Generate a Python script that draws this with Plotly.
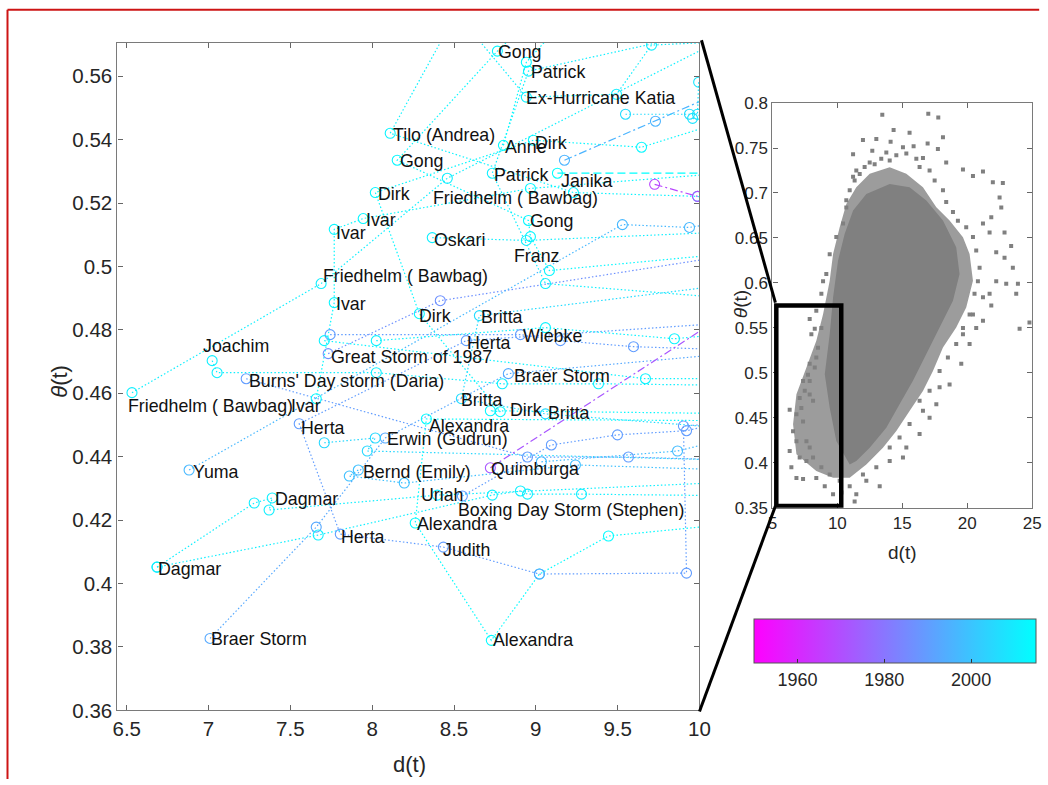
import plotly.graph_objects as go

# Figure canvas and page-pixel helpers for placing the axes and decorations
FW, FH = 1048, 790
SX, OX = 0.9855, 5.0
SY, OY = 0.973, 8.8
FONT = "Liberation Sans, Arial, Helvetica, sans-serif"


def px(x):
    """Horizontal page pixel -> paper fraction."""
    return ((x - OX) / SX) / FW


def py(y):
    """Vertical page pixel (from the top) -> paper fraction."""
    return 1 - ((y - OY) / SY) / FH


# ---------------------------------------------------------------------------
# Storm tracks in the (d, theta) phase space, one list per storm
# ---------------------------------------------------------------------------
track_names = [
    "Gong", "Patrick", "Ex-Hurricane Katia", "Tilo (Andrea)", "Anne", "Dirk",
    "Janika", "Friedhelm", "Ivar", "Oskari", "Britta", "Wiebke",
    "Joachim", "Great Storm of 1987", "Braer Storm", "Burns' Day storm",
    "Alexandra", "Herta / Judith", "Erwin (Gudrun)", "Yuma", "Bernd (Emily)",
    "Quimburga", "Dagmar", "Dagmar (2)", "Uriah", "Boxing Day Storm",
    "storm 1968", "storm 1996", "storm 2006", "storm 2008", "storm 2009",
    "storm 2012a", "storm 2012b",
]
track_years = [
    2013, 2011, 2011, 2012, 2014, 2013,
    2015, 2011, 2013, 2011, 2006, 1990,
    2011, 1987, 1993, 1990,
    2014, 1990, 2005, 1997, 1999,
    1972, 2011, 2011, 1990, 1998,
    1968, 1996, 2006, 2008, 2009,
    2012, 2012,
]
track_dash = [
    "dot", "dot", "dot", "dot", "dot", "dot",
    "dash", "dot", "dot", "dot", "dot", "dot",
    "dot", "dot", "dot", "dot",
    "dot", "dot", "dot", "dot", "dot",
    "dashdot", "dot", "dot", "dot", "dot",
    "dashdot", "dashdot", "dot", "dot", "dot",
    "dot", "dot",
]
track_d = [
    [9.334, 8.765, 8.153, 8.955, 8.967, 9.083, 10.373],
    [10.373, 8.955, 8.734, 9.059, 10.373],
    [8.294, 8.942, 9.493, 9.707, 10.373],
    [8.661, 8.110, 9.230, 9.988, 10.373],
    [8.802, 8.942, 9.395],
    [10.373, 9.646, 8.985, 8.019, 8.288, 8.783, 8.722, 10.373],
    [9.132, 10.373],
    [6.532, 7.688, 8.459, 10.373],
    [7.658, 7.768, 7.768, 7.945, 8.967, 10.373],
    [8.367, 8.942, 10.373],
    [10.373, 8.655, 8.545, 9.059, 10.373],
    [7.743, 8.906, 9.150, 9.597, 10.373],
    [7.022, 7.052, 8.025, 8.795, 9.383, 10.373],
    [7.731, 8.416, 10.373],
    [7.009, 7.658, 8.080, 8.832, 10.373],
    [7.230, 8.949, 9.566, 10.373],
    [10.373, 8.331, 8.263, 8.728, 9.022, 9.444, 10.373],
    [10.373, 8.575, 7.554, 7.805, 8.435, 9.022, 9.921, 9.902, 10.373],
    [7.707, 8.019, 7.970, 10.373],
    [6.881, 9.529, 9.939, 10.373],
    [7.915, 7.860, 8.196, 9.242, 10.373],
    [8.722, 10.373],
    [6.685, 7.279, 7.389, 7.370, 8.398, 10.373],
    [6.685, 7.670, 8.734, 8.906, 8.949, 9.279, 10.373],
    [8.551, 9.095, 9.499, 9.921, 10.373],
    [9.034, 9.866, 10.373],
    [9.726, 9.988],
    [9.175, 9.731, 10.373],
    [9.548, 9.939, 10.373],
    [9.958, 10.373],
    [9.995, 9.988, 10.373],
    [8.025, 9.059, 9.847, 10.373],
    [7.707, 9.670, 10.373],
]
track_theta = [
    [0.5967, 0.5679, 0.5335, 0.5145, 0.5094, 0.4987, 0.5050],
    [0.5777, 0.5616, 0.5294, 0.4946, 0.4892],
    [0.5935, 0.5534, 0.5543, 0.5698, 0.5714],
    [0.5935, 0.5420, 0.5233, 0.5221, 0.5161],
    [0.5382, 0.5644, 0.5903],
    [0.5493, 0.5376, 0.5398, 0.5233, 0.4851, 0.4542, 0.4545, 0.4535],
    [0.5294, 0.5294],
    [0.4602, 0.4946, 0.5278, 0.5777],
    [0.4583, 0.4886, 0.5117, 0.5151, 0.5246, 0.5303],
    [0.5091, 0.5082, 0.5113],
    [0.4955, 0.4845, 0.4583, 0.4535, 0.4482],
    [0.4785, 0.4785, 0.4766, 0.4747, 0.4734],
    [0.4703, 0.4665, 0.4665, 0.4630, 0.4630, 0.4624],
    [0.4725, 0.4892, 0.5050],
    [0.3827, 0.4178, 0.4459, 0.4662, 0.4734],
    [0.4646, 0.4399, 0.4399, 0.4387],
    [0.4513, 0.4519, 0.4191, 0.3821, 0.4030, 0.4150, 0.4197],
    [0.4829, 0.4766, 0.4504, 0.4156, 0.4115, 0.4030, 0.4033, 0.4497, 0.4513],
    [0.4444, 0.4459, 0.4418, 0.4387],
    [0.4358, 0.5132, 0.5123, 0.5161],
    [0.4358, 0.4339, 0.4317, 0.4374, 0.4355],
    [0.4365, 0.4921],
    [0.4052, 0.4254, 0.4270, 0.4232, 0.4279, 0.4324],
    [0.4052, 0.4153, 0.4279, 0.4292, 0.4282, 0.4282, 0.4276],
    [0.4276, 0.4437, 0.4469, 0.4482, 0.4535],
    [0.4384, 0.4418, 0.4482],
    [0.5259, 0.5221],
    [0.5335, 0.5458, 0.5603],
    [0.5480, 0.5480, 0.5493],
    [0.5467, 0.5400],
    [0.5581, 0.5480, 0.5350],
    [0.4766, 0.4807, 0.4772, 0.4797],
    [0.4766, 0.4646, 0.4646],
]

# Storm name labels
label_text = [
    "Gong", "Patrick", "Ex-Hurricane Katia", "Tilo (Andrea)", "Anne", "Dirk",
    "Gong", "Patrick", "Janika", "Dirk", "Friedhelm ( Bawbag)", "Ivar",
    "Gong", "Ivar", "Oskari", "Franz", "Friedhelm ( Bawbag)", "Ivar",
    "Dirk", "Britta", "Wiebke", "Herta", "Joachim", "Great Storm of 1987",
    "Braer Storm", "Burns' Day storm (Daria)", "Britta", "Friedhelm ( Bawbag)",
    "Ivar", "Dirk", "Britta", "Herta", "Alexandra", "Erwin (Gudrun)", "Yuma",
    "Bernd (Emily)", "Quimburga", "Dagmar", "Uriah",
    "Boxing Day Storm (Stephen)", "Alexandra", "Herta", "Judith", "Dagmar",
    "Braer Storm", "Alexandra",
]
label_d = [
    8.765, 8.967, 8.936, 8.123, 8.808, 8.991,
    8.165, 8.740, 9.150, 8.031, 8.367, 7.957,
    8.961, 7.774, 8.373, 8.863, 7.695, 7.774,
    8.282, 8.661, 8.918, 8.575, 6.961, 7.743,
    8.863, 7.242, 8.539, 6.502,
    7.499, 8.838, 9.071, 7.560, 8.343, 8.086, 6.899,
    7.939, 8.722, 7.401, 8.294,
    8.520, 8.269, 7.805, 8.429, 6.685,
    7.009, 8.734,
]
label_theta = [
    0.5676, 0.5613, 0.5531, 0.5413, 0.5376, 0.5388,
    0.5331, 0.5287, 0.5271, 0.5230, 0.5215, 0.5145,
    0.5142, 0.5107, 0.5082, 0.5034, 0.4971, 0.4883,
    0.4845, 0.4839, 0.4782, 0.4760, 0.4750, 0.4715,
    0.4655, 0.4639, 0.4579, 0.4560,
    0.4560, 0.4548, 0.4538, 0.4491, 0.4497, 0.4456, 0.4352,
    0.4352, 0.4361, 0.4267, 0.4279,
    0.4232, 0.4188, 0.4147, 0.4106, 0.4046,
    0.3824, 0.3821,
]

# Colour range of the year colour bar
year_min, year_max = 1950, 2015
year_ticks = [1960, 1980, 2000]

# ---------------------------------------------------------------------------
# Full sample cloud for the overview inset
# ---------------------------------------------------------------------------
cloud_halo_d = [
    10.95, 9.67, 8.38, 6.85, 6.59, 6.85, 7.62, 8.38, 8.90, 9.41, 9.67, 10.18,
    10.69, 11.46, 12.49, 14.03, 15.31, 16.59, 17.62, 18.64, 19.67, 20.18,
    20.44, 19.92, 19.15, 18.13, 17.36, 16.59, 15.56, 14.54, 13.51, 12.23,
]
cloud_halo_theta = [
    0.3834, 0.3834, 0.3908, 0.4094, 0.4428, 0.4762, 0.5059, 0.5356, 0.5653,
    0.6025, 0.6322, 0.6619, 0.6879, 0.7064, 0.7213, 0.7287, 0.7213, 0.7064,
    0.6841, 0.6693, 0.6507, 0.6322, 0.6025, 0.5727, 0.5505, 0.5282, 0.5022,
    0.4799, 0.4576, 0.4354, 0.4168, 0.3982,
]
cloud_core_d = [
    10.95, 9.92, 9.41, 9.03, 9.41, 9.67, 10.05, 10.56, 11.21, 12.23, 14.03,
    15.56, 16.85, 18.13, 19.15, 19.41, 18.90, 17.87, 16.85, 15.82, 14.79,
    13.77, 12.49, 11.46,
]
cloud_core_theta = [
    0.3982, 0.4242, 0.4613, 0.4985, 0.5430, 0.5839, 0.6247, 0.6544, 0.6804,
    0.6990, 0.7101, 0.7064, 0.6916, 0.6693, 0.6396, 0.6099, 0.5802, 0.5505,
    0.5208, 0.4911, 0.4651, 0.4391, 0.4168, 0.4019,
]
# samples along the fringe of the cloud
edge_d = [
    10.69, 10.95, 11.33, 11.72, 12.10, 12.87, 13.38, 13.77, 14.54, 16.08,
    16.33, 17.10, 17.49, 18.13, 18.38, 18.90, 19.28, 19.92, 20.44, 20.69,
    20.95, 20.82, 20.56, 20.18, 19.67, 19.15, 18.51, 17.87, 17.10, 16.33,
    15.56, 14.79, 14.03, 13.00, 11.97, 10.95, 10.18, 9.41, 8.77, 8.13,
    7.62, 7.36, 7.23, 7.49, 7.87, 8.26, 8.51, 8.77,
]
edge_theta = [
    0.684, 0.703, 0.714, 0.721, 0.729, 0.732, 0.738, 0.745, 0.742, 0.738,
    0.729, 0.725, 0.714, 0.703, 0.690, 0.679, 0.669, 0.662, 0.651, 0.636,
    0.617, 0.602, 0.588, 0.565, 0.550, 0.532, 0.517, 0.502, 0.480, 0.469,
    0.443, 0.428, 0.417, 0.395, 0.387, 0.374, 0.380, 0.387, 0.395, 0.406,
    0.424, 0.446, 0.461, 0.480, 0.491, 0.506, 0.528, 0.550,
]
# isolated samples away from the bulk
outlier_d = [
    13.46, 17.00, 17.77, 14.33, 15.56, 18.13, 11.97, 13.00, 14.10, 15.05,
    15.87, 16.95, 17.74, 11.21, 12.69, 16.59, 18.38, 19.67, 21.21, 20.44,
    21.97, 22.74, 22.49, 22.62, 21.85, 21.21, 21.72, 22.87, 23.38, 22.23,
    22.87, 23.51, 23.90, 23.77, 23.00, 22.23, 21.72, 21.21, 21.85, 21.21,
    20.44, 24.79, 24.03, 20.69, 19.67, 20.18, 19.54, 18.64, 17.87, 17.62,
    16.59, 17.10, 16.33, 15.31, 15.05, 14.03, 13.26, 12.23, 11.46, 11.33,
    10.31, 9.67, 9.03, 8.38, 7.36, 6.85, 6.46, 6.33, 7.10, 7.62,
    7.87, 6.85, 6.59, 6.33, 6.85, 7.10, 7.87, 8.13, 7.36, 7.74,
    7.87, 8.38, 8.00, 8.26, 7.87, 8.38, 8.77, 8.90, 9.15, 9.41,
    9.92, 10.44, 10.69, 11.21, 11.46, 12.49, 14.03, 15.31,
]
outlier_theta = [
    0.787, 0.788, 0.784, 0.770, 0.767, 0.762, 0.759, 0.760, 0.757, 0.751,
    0.752, 0.755, 0.749, 0.743, 0.747, 0.739, 0.734, 0.726, 0.724, 0.719,
    0.712, 0.711, 0.695, 0.684, 0.673, 0.666, 0.656, 0.656, 0.641, 0.634,
    0.628, 0.617, 0.599, 0.588, 0.599, 0.602, 0.588, 0.584, 0.575, 0.558,
    0.565, 0.556, 0.549, 0.550, 0.543, 0.532, 0.510, 0.487, 0.484, 0.465,
    0.458, 0.450, 0.432, 0.417, 0.406, 0.402, 0.374, 0.380, 0.365, 0.357,
    0.367, 0.365, 0.374, 0.383, 0.382, 0.383, 0.395, 0.413, 0.406, 0.402,
    0.417, 0.424, 0.435, 0.459, 0.454, 0.472, 0.476, 0.469, 0.491, 0.498,
    0.510, 0.517, 0.543, 0.549, 0.560, 0.569, 0.588, 0.602, 0.610, 0.632,
    0.651, 0.666, 0.692, 0.718, 0.725, 0.734, 0.736, 0.744,
]

# Zoom window drawn on the inset
zoom_box_d = [5.3, 10.3]
zoom_box_theta = [0.352, 0.575]


# Linear magenta -> cyan colour map for the storm year
COLORSCALE = [[0.0, "rgb(255,0,255)"], [1.0, "rgb(0,255,255)"]]


def year_colour(year):
    t = min(max((year - year_min) / (year_max - year_min), 0.0), 1.0)
    return "rgb({:d},{:d},255)".format(round(255 * (1 - t)), round(255 * t))


DASHES = {"dot": "1.5px,2.2px", "dash": "8px,4px", "dashdot": "8px,3px,2px,3px"}

fig = go.Figure()

# track lines
for name, yr, dash, xs, ys in zip(track_names, track_years, track_dash,
                                   track_d, track_theta):
    fig.add_trace(go.Scatter(
        x=xs, y=ys, mode="lines", name=name, hoverinfo="skip",
        line=dict(color=year_colour(yr), width=1.2, dash=DASHES[dash]),
        xaxis="x", yaxis="y",
    ))

# all track points as open circles coloured by year (carries the colour bar)
pts_d, pts_theta, pts_year = [], [], []
for yr, xs, ys in zip(track_years, track_d, track_theta):
    pts_d += xs
    pts_theta += ys
    pts_year += [yr] * len(xs)

cb_left, cb_right = px(755), min(px(1045), 0.999)
fig.add_trace(go.Scatter(
    x=pts_d, y=pts_theta, mode="markers", cliponaxis=True, hoverinfo="skip",
    marker=dict(
        symbol="circle-open", size=10, line=dict(width=1.1),
        color=pts_year, colorscale=COLORSCALE, cmin=year_min, cmax=year_max,
        showscale=True,
        colorbar=dict(
            orientation="h", x=(cb_left + cb_right) / 2, xanchor="center",
            y=py(618), yanchor="top", len=cb_right - cb_left,
            lenmode="fraction", thickness=44, thicknessmode="pixels",
            xpad=0, ypad=0, outlinewidth=1, outlinecolor="#555555",
            tickvals=year_ticks, ticks="inside", ticklen=4,
            tickcolor="#333333",
            tickfont=dict(family=FONT, size=18, color="#262626"),
        ),
    ),
    xaxis="x", yaxis="y",
))

# inset: sample cloud
fig.add_trace(go.Scatter(
    x=cloud_halo_d + cloud_halo_d[:1], y=cloud_halo_theta + cloud_halo_theta[:1],
    mode="lines", fill="toself", fillcolor="rgba(128,128,128,0.78)",
    line=dict(width=0), hoverinfo="skip", xaxis="x2", yaxis="y2",
))
fig.add_trace(go.Scatter(
    x=cloud_core_d + cloud_core_d[:1], y=cloud_core_theta + cloud_core_theta[:1],
    mode="lines", fill="toself", fillcolor="rgb(128,128,128)",
    line=dict(width=0), hoverinfo="skip", xaxis="x2", yaxis="y2",
))
fig.add_trace(go.Scatter(
    x=edge_d + outlier_d, y=edge_theta + outlier_theta, mode="markers",
    hoverinfo="skip",
    marker=dict(symbol="square", size=4, color="rgb(128,128,128)"),
    xaxis="x2", yaxis="y2",
))

axis_common = dict(
    showgrid=False, zeroline=False, ticks="inside", ticklen=5,
    tickcolor="#666666", linecolor="#7a7a7a", linewidth=1.2,
    mirror="ticks", showline=True,
)

main_x_ticks = [6.5, 7, 7.5, 8, 8.5, 9, 9.5, 10]
main_y_ticks = [0.36, 0.38, 0.4, 0.42, 0.44, 0.46, 0.48, 0.5, 0.52, 0.54, 0.56]
inset_x_ticks = [5, 10, 15, 20, 25]
inset_y_ticks = [0.35, 0.4, 0.45, 0.5, 0.55, 0.6, 0.65, 0.7, 0.75, 0.8]

fig.update_layout(
    width=FW, height=FH, margin=dict(l=0, r=0, t=0, b=0),
    paper_bgcolor="white", plot_bgcolor="white", showlegend=False,
    xaxis=dict(
        domain=[px(117.5), px(700)], range=[6.443, 10.0], anchor="y",
        tickvals=main_x_ticks, ticktext=[f"{v:g}" for v in main_x_ticks],
        tickfont=dict(family=FONT, size=20.5, color="#262626"), **axis_common,
    ),
    yaxis=dict(
        domain=[py(709), py(42.3)], range=[0.36, 0.5706], anchor="x",
        tickvals=main_y_ticks, ticktext=[f"{v:g}" for v in main_y_ticks],
        tickfont=dict(family=FONT, size=20.5, color="#262626"), **axis_common,
    ),
    xaxis2=dict(
        domain=[px(773), px(1033)], range=[5, 25], anchor="y2",
        tickvals=inset_x_ticks, ticktext=[f"{v:g}" for v in inset_x_ticks],
        tickfont=dict(family=FONT, size=17, color="#262626"), **axis_common,
    ),
    yaxis2=dict(
        domain=[py(506.7), py(102.7)], range=[0.35, 0.8], anchor="x2",
        tickvals=inset_y_ticks, ticktext=[f"{v:g}" for v in inset_y_ticks],
        tickfont=dict(family=FONT, size=17, color="#262626"), **axis_common,
    ),
)

annotations = []
for txt, xv, yv in zip(label_text, label_d, label_theta):
    annotations.append(dict(
        x=xv, y=yv, xref="x", yref="y", text=txt, showarrow=False,
        xanchor="left", yanchor="middle", borderpad=0,
        font=dict(family=FONT, size=17.8, color="#111111"),
    ))

title_font = dict(family=FONT, size=22, color="#262626")
annotations += [
    dict(x=px(410), y=py(763), xref="paper", yref="paper", text="d(t)",
         showarrow=False, xanchor="center", yanchor="middle", font=title_font),
    dict(x=px(60), y=py(380), xref="paper", yref="paper",
         text="<i>θ</i>(t)", textangle=-90, showarrow=False,
         xanchor="center", yanchor="middle", font=title_font),
    dict(x=px(903), y=py(551), xref="paper", yref="paper", text="d(t)",
         showarrow=False, xanchor="center", yanchor="middle",
         font=dict(family=FONT, size=19, color="#262626")),
    dict(x=px(741), y=py(303), xref="paper", yref="paper",
         text="<i>θ</i>(t)", textangle=-90, showarrow=False,
         xanchor="center", yanchor="middle",
         font=dict(family=FONT, size=19, color="#262626")),
]
fig.update_layout(annotations=annotations)

shapes = [
    # zoom window on the overview
    dict(type="rect", xref="x2", yref="y2",
         x0=zoom_box_d[0], x1=zoom_box_d[1],
         y0=zoom_box_theta[0], y1=zoom_box_theta[1],
         line=dict(color="black", width=4.5), layer="above"),
    # connectors from the main axes to the zoom window
    dict(type="line", xref="paper", yref="paper",
         x0=px(702), y0=py(40), x1=px(776), y1=py(302),
         line=dict(color="black", width=3)),
    dict(type="line", xref="paper", yref="paper",
         x0=px(700), y0=py(710), x1=px(776), y1=py(505),
         line=dict(color="black", width=3)),
    # figure frame
    dict(type="line", xref="paper", yref="paper",
         x0=px(7.5), y0=0, x1=px(7.5), y1=0.999,
         line=dict(color="rgb(205,20,20)", width=2)),
    dict(type="line", xref="paper", yref="paper",
         x0=px(7.5), y0=0.999, x1=px(1040), y1=0.999,
         line=dict(color="rgb(205,20,20)", width=2)),
]
fig.update_layout(shapes=shapes)

fig.write_html("out.html")
